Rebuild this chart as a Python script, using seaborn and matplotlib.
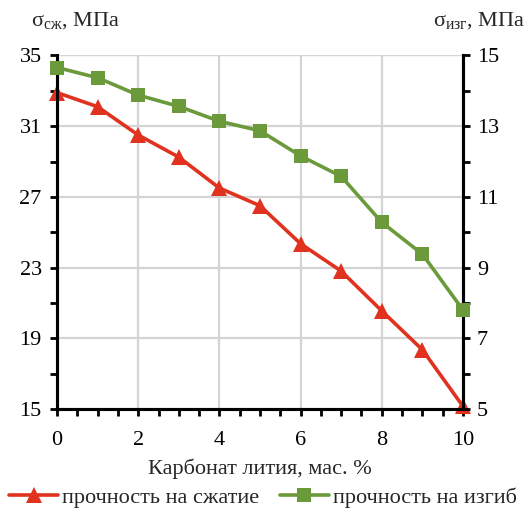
import matplotlib
matplotlib.use("Agg")
import matplotlib.pyplot as plt
import seaborn as sns
import pandas as pd
from matplotlib.ticker import FixedLocator

# Lithium carbonate content, wt. %
carbonate = [0, 1, 2, 3, 4, 5, 6, 7, 8, 9, 10]
# Compressive strength, MPa (left axis)
compressive = [32.9, 32.1, 30.5, 29.25, 27.5, 26.5, 24.35, 22.8, 20.55, 18.35, 15.15]
# Flexural strength, MPa (right axis)
flexural = [14.66, 14.37, 13.88, 13.56, 13.14, 12.87, 12.16, 11.58, 10.28, 9.38, 7.8]

left_ticks = [15, 19, 23, 27, 31, 35]
right_ticks = [5, 7, 9, 11, 13, 15]
x_ticks = [0, 2, 4, 6, 8, 10]

label_comp = "прочность на сжатие"
label_flex = "прочность на изгиб"
xlabel = "Карбонат лития, мас. %"
ylabel_left = r"$\mathregular{σ_{сж}}$, МПа"
ylabel_right = r"$\mathregular{σ_{изг}}$, МПа"

df = pd.DataFrame({"x": carbonate, "comp": compressive, "flex": flexural})

sns.set_theme(style="white")
plt.rcParams["font.family"] = ["Liberation Serif", "DejaVu Serif"]
plt.rcParams["mathtext.fontset"] = "custom"
plt.rcParams["mathtext.rm"] = "Liberation Serif"

red = "#E0321E"
green = "#6B9A3A"
grid_c = "#D4D4D4"
fs = 16

fig = plt.figure(figsize=(5.26, 5.11), dpi=100)
ax = fig.add_axes([0.1084, 0.1996, 0.7718, 0.6918])
ax2 = ax.twinx()

sns.lineplot(data=df, x="x", y="comp", ax=ax, color=red, marker="^",
             markersize=11, markeredgewidth=0, linewidth=2.6, label=label_comp,
             legend=False, clip_on=False, zorder=4)
sns.lineplot(data=df, x="x", y="flex", ax=ax2, color=green, marker="s",
             markersize=10, markeredgewidth=0, linewidth=2.6, label=label_flex,
             legend=False, clip_on=False, zorder=4)

ax.set_xlim(0, 10)
ax.set_ylim(15, 35)
ax2.set_ylim(5, 15)

ax.xaxis.set_major_locator(FixedLocator(x_ticks))
ax.xaxis.set_minor_locator(FixedLocator([v / 2 for v in range(0, 21)]))
ax.yaxis.set_major_locator(FixedLocator(left_ticks))
ax.yaxis.set_minor_locator(FixedLocator(list(range(15, 36, 2))))
ax2.yaxis.set_major_locator(FixedLocator(right_ticks))
ax2.yaxis.set_minor_locator(FixedLocator(list(range(5, 16))))

ax.grid(True, which="major", color=grid_c, linewidth=1.6)
ax.set_axisbelow(True)

for a in (ax, ax2):
    for s in a.spines.values():
        s.set_color("black")
        s.set_linewidth(2.2)
    a.spines["top"].set_visible(False)
    a.set_xlabel("")
    a.set_ylabel("")

ax.plot([0, 10], [35, 35], color=grid_c, linewidth=1.6, zorder=0)

ax.tick_params(axis="both", which="both", direction="out", color="black",
               width=2, length=5, labelsize=fs, labelcolor="black")
ax.tick_params(axis="y", which="both", left=True, right=False, pad=6)
ax.tick_params(axis="x", which="both", bottom=True, pad=11)
ax2.tick_params(axis="y", which="both", direction="out", right=True, color="black",
                width=2, length=5, labelsize=fs, labelcolor="black", pad=5)

ax.set_xlabel(xlabel, fontsize=fs, labelpad=6)

fig.text(0.058, 0.960, ylabel_left, fontsize=fs, ha="left", va="center")
fig.text(0.998, 0.960, ylabel_right, fontsize=fs, ha="right", va="center")

handles = ax.get_lines()[:1] + ax2.get_lines()[:1]
fig.legend(handles, [label_comp, label_flex], loc="center", ncol=2,
           bbox_to_anchor=(0.5, 0.026), frameon=False, fontsize=fs,
           handlelength=2.2, handletextpad=0.2, columnspacing=0.9)

fig.savefig("out.png", dpi=100)
